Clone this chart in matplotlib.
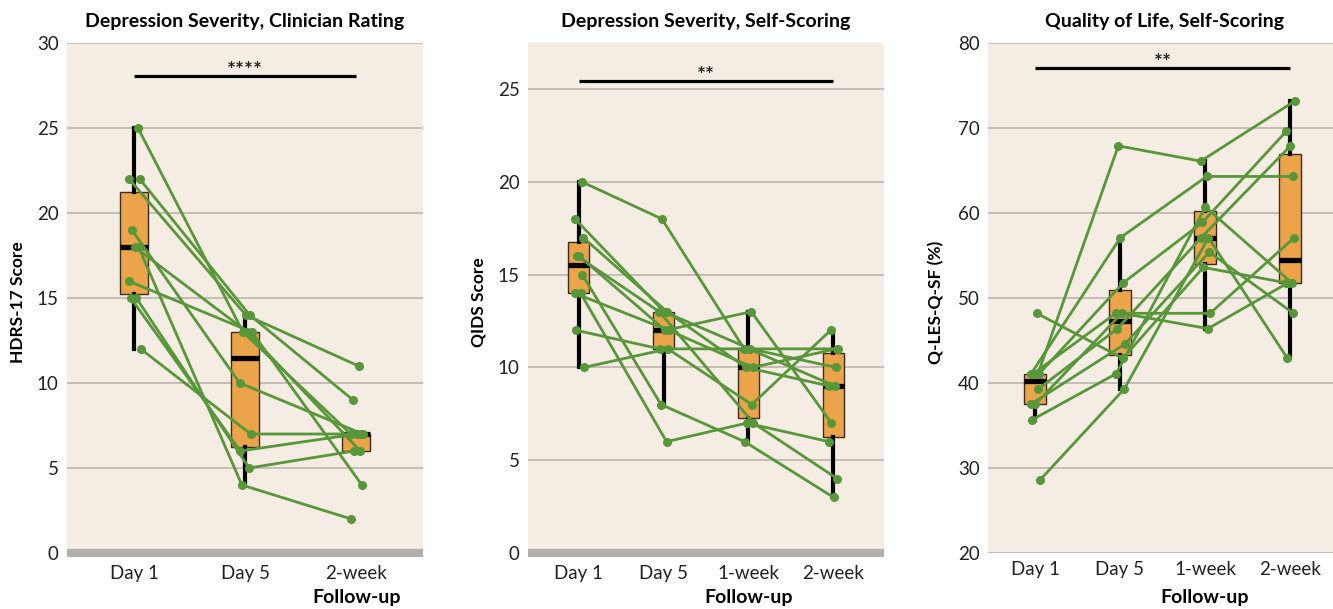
import matplotlib
matplotlib.use("Agg")
import matplotlib.pyplot as plt
import matplotlib.transforms as mtransforms

plt.rcParams['font.family'] = ['Lato', 'DejaVu Sans']

# ---------------- data ----------------
hdrs_labels = ["Day 1", "Day 5", "2-week"]
hdrs_day1 = [25, 22, 22, 19, 18, 18, 16, 15, 15, 12]
hdrs_day5 = [13, 14, 14, 10, 13, 4, 13, 5, 6, 7]
hdrs_week2 = [7, 11, 9, 7, 6, 2, 4, 6, 7, 7]

qids_labels = ["Day 1", "Day 5", "1-week", "2-week"]
qids_day1 = [20, 18, 17, 16, 16, 15, 14, 14, 12, 10]
qids_day5 = [18, 13, 13, 13, 12, 8, 12, 6, 11, 11]
qids_week1 = [11, 11, 10, 7, 13, 6, 10, 7, 11, 8]
qids_week2 = [11, 10, 9, 4, 7, 3, 11, 6, 9, 12]

qles_labels = ["Day 1", "Day 5", "1-week", "2-week"]
qles_day1 = [41.1, 41.1, 41.1, 41.1, 37.5, 39.3, 37.5, 48.2, 35.7, 28.6]
qles_day5 = [67.9, 57.1, 51.8, 48.2, 48.2, 46.4, 44.6, 42.9, 41.1, 39.3]
qles_week1 = [66.1, 64.3, 58.9, 48.2, 46.4, 57.1, 55.4, 53.6, 60.7, 57.1]
qles_week2 = [73.2, 64.3, 69.6, 57.1, 51.8, 67.9, 48.2, 51.8, 51.8, 42.9]

titles = ["Depression Severity, Clinician Rating",
          "Depression Severity, Self-Scoring",
          "Quality of Life, Self-Scoring"]
ylabels = ["HDRS-17 Score", "QIDS Score", "Q-LES-Q-SF (%)"]
sig_text = ["****", "**", "**"]
sig_level = [28.05, 25.45, 77.05]

# ---------------- style ----------------
BG = "#F5EDE3"
GRID = "#C2BAB2"
BAND = "#B5AFA9"
ORANGE = "#ECA44A"
GREEN = "#58963A"
TXT = "#222222"
JIT = [0.035, -0.045, 0.05, -0.02, 0.005, 0.04, -0.05, 0.02, -0.03, 0.06]

W, H = 1333, 609
fig = plt.figure(figsize=(W / 100, H / 100), dpi=100)


def px_axes(l, r, t, b):
    return fig.add_axes([l / W, 1 - b / H, (r - l) / W, (b - t) / H])


panels = [
    dict(rect=(67, 423, 43, 557), xlim=(-0.604, 2.60), ylim=(-0.235, 30),
         yticks=[0, 5, 10, 15, 20, 25, 30], labels=hdrs_labels,
         series=[hdrs_day1, hdrs_day5, hdrs_week2], band=True,
         ylab_x=18, title_x=245),
    dict(rect=(528, 884, 43, 557), xlim=(-0.60, 3.60), ylim=(-0.215, 27.48),
         yticks=[0, 5, 10, 15, 20, 25], labels=qids_labels,
         series=[qids_day1, qids_day5, qids_week1, qids_week2], band=True,
         ylab_x=479, title_x=706),
    dict(rect=(988, 1333, 43, 553), xlim=(-0.553, 3.506), ylim=(20, 80),
         yticks=[20, 30, 40, 50, 60, 70, 80], labels=qles_labels,
         series=[qles_day1, qles_day5, qles_week1, qles_week2], band=False,
         ylab_x=936, title_x=1165),
]

for i, p in enumerate(panels):
    ax = px_axes(*p["rect"])
    ax.set_facecolor(BG)
    for s in ax.spines.values():
        s.set_visible(False)
    n = len(p["series"])
    pos = list(range(n))

    if p["band"]:
        ax.axhline(0, color=BAND, linewidth=6, zorder=1.5)

    ax.boxplot(p["series"], positions=pos, widths=0.25, patch_artist=True,
               showfliers=False, showcaps=False, whis=1.5,
               boxprops=dict(facecolor=ORANGE, edgecolor="#3A2C1E", linewidth=1.0),
               medianprops=dict(color="black", linewidth=3.8, solid_capstyle="butt"),
               whiskerprops=dict(color="black", linewidth=3.0),
               zorder=2)

    nsub = len(p["series"][0])
    for k in range(nsub):
        xs = [t + JIT[(k + 3 * t) % len(JIT)] for t in range(n)]
        ys = [p["series"][t][k] for t in range(n)]
        ax.plot(xs, ys, color=GREEN, linewidth=2.0, marker="o",
                markersize=6.5, markeredgewidth=0, zorder=3)

    ax.set_xlim(*p["xlim"])
    ax.set_ylim(*p["ylim"])
    ax.set_yticks(p["yticks"])
    ax.set_xticks(pos)
    ax.set_xticklabels(p["labels"])
    ax.tick_params(axis="both", length=0, labelsize=13.5, colors=TXT)
    ax.tick_params(axis="x", pad=6)
    ax.tick_params(axis="y", pad=6)
    ax.yaxis.grid(True, color=GRID, linewidth=1.3)
    ax.xaxis.grid(False)
    ax.set_axisbelow(True)

    # significance bar
    ax.plot([0, n - 1], [sig_level[i]] * 2, color="black", linewidth=2.3,
            solid_capstyle="butt", zorder=4)
    ax.annotate(sig_text[i], xy=((n - 1) / 2, sig_level[i]),
                xytext=(0, 3.5), textcoords="offset points",
                ha="center", va="center", fontsize=15,
                fontweight="bold", color=TXT)

    # titles / labels
    fig.text(p["title_x"] / W, 1 - 22 / H, titles[i], ha="center", va="center",
             fontsize=14, fontweight="bold", color="black")
    fig.text(p["ylab_x"] / W, 1 - 302 / H, ylabels[i], ha="center",
             va="center", rotation=90, fontsize=12.5, fontweight="bold",
             color="black")
    trans = mtransforms.blended_transform_factory(ax.transData, fig.transFigure)
    ax.text((1 + n - 1) / 2 if n > 3 else n - 1, 1 - 598 / H, "Follow-up",
            transform=trans, ha="center", va="center", fontsize=14,
            fontweight="bold", color="black")

fig.savefig("out.png", dpi=100, facecolor="white")
